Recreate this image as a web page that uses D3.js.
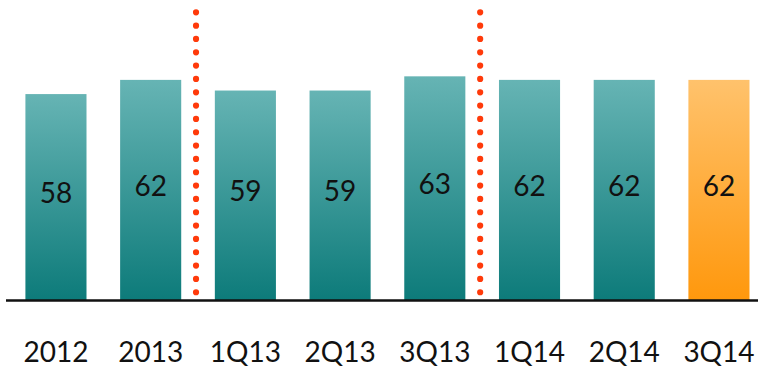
<!DOCTYPE html>
<html><head><meta charset="utf-8">
<script src="https://cdn.jsdelivr.net/npm/d3@7"></script>
<style>html,body{margin:0;padding:0;background:#fff;}svg{display:block;}</style>
</head><body>
<script>
const categories = ["2012","2013","1Q13","2Q13","3Q13","1Q14","2Q14","3Q14"];
const values = [58, 62, 59, 59, 63, 62, 62, 62];
const highlight = ["3Q14"];
const dividersAfter = ["2013","3Q13"];

const W = 758, H = 368;
const svg = d3.select("body").append("svg").attr("width", W).attr("height", H);

const defs = svg.append("defs");
function grad(id, top, bottom){
  const g = defs.append("linearGradient").attr("id", id).attr("x1",0).attr("y1",0).attr("x2",0).attr("y2",1);
  g.append("stop").attr("offset","0%").attr("stop-color",top);
  g.append("stop").attr("offset","100%").attr("stop-color",bottom);
}
grad("teal", "#66b4b4", "#0d7b7a");
grad("orange", "#ffc26c", "#ff980d");

const baseY = 300;
const x = d3.scaleBand().domain(categories).range([8.6, 766.3]).paddingInner(0.355).paddingOuter(0.1775);
const y = d3.scaleLinear().domain([0, 84.5]).range([baseY, 0]);

svg.selectAll("rect.bar").data(categories).join("rect")
  .attr("class","bar")
  .attr("x", d => x(d))
  .attr("width", x.bandwidth())
  .attr("y", (d,i) => y(values[i]))
  .attr("height", (d,i) => baseY - y(values[i]))
  .attr("fill", d => highlight.includes(d) ? "url(#orange)" : "url(#teal)");

svg.selectAll("text.val").data(categories).join("text")
  .attr("class","val")
  .attr("x", d => x(d) + x.bandwidth()/2)
  .attr("y", (d,i) => (y(values[i]) + baseY)/2 - 4)
  .attr("dy", "0.35em")
  .attr("text-anchor","middle")
  .attr("font-family","Lato, sans-serif")
  .attr("font-size", 28)
  .attr("fill","#111")
  .text((d,i) => values[i]);

// divider dotted lines
const step = x.step(), bw = x.bandwidth();
svg.selectAll("line.div").data(dividersAfter).join("line")
  .attr("class","div")
  .attr("x1", d => x(d) + bw + (step-bw)/2 - 2)
  .attr("x2", d => x(d) + bw + (step-bw)/2 - 2)
  .attr("y1", 12.3)
  .attr("y2", 298)
  .attr("stroke", "#ff3a0a")
  .attr("stroke-width", 6.2)
  .attr("stroke-linecap","round")
  .attr("stroke-dasharray", "0 13.33");

// axis baseline
svg.append("line")
  .attr("x1", 6).attr("x2", 758)
  .attr("y1", baseY+0.5).attr("y2", baseY+0.5)
  .attr("stroke", "#111").attr("stroke-width", 2.6);

const xAxis = d3.axisBottom(x).tickSize(0).tickPadding(0);
const ax = svg.append("g").attr("transform", `translate(0,${baseY})`).call(xAxis);
ax.select(".domain").remove();
ax.selectAll("text")
  .attr("y", 62).attr("dy", 0)
  .attr("font-family","Lato, sans-serif")
  .attr("font-size", 28)
  .attr("fill","#111");
</script>
</body></html>
